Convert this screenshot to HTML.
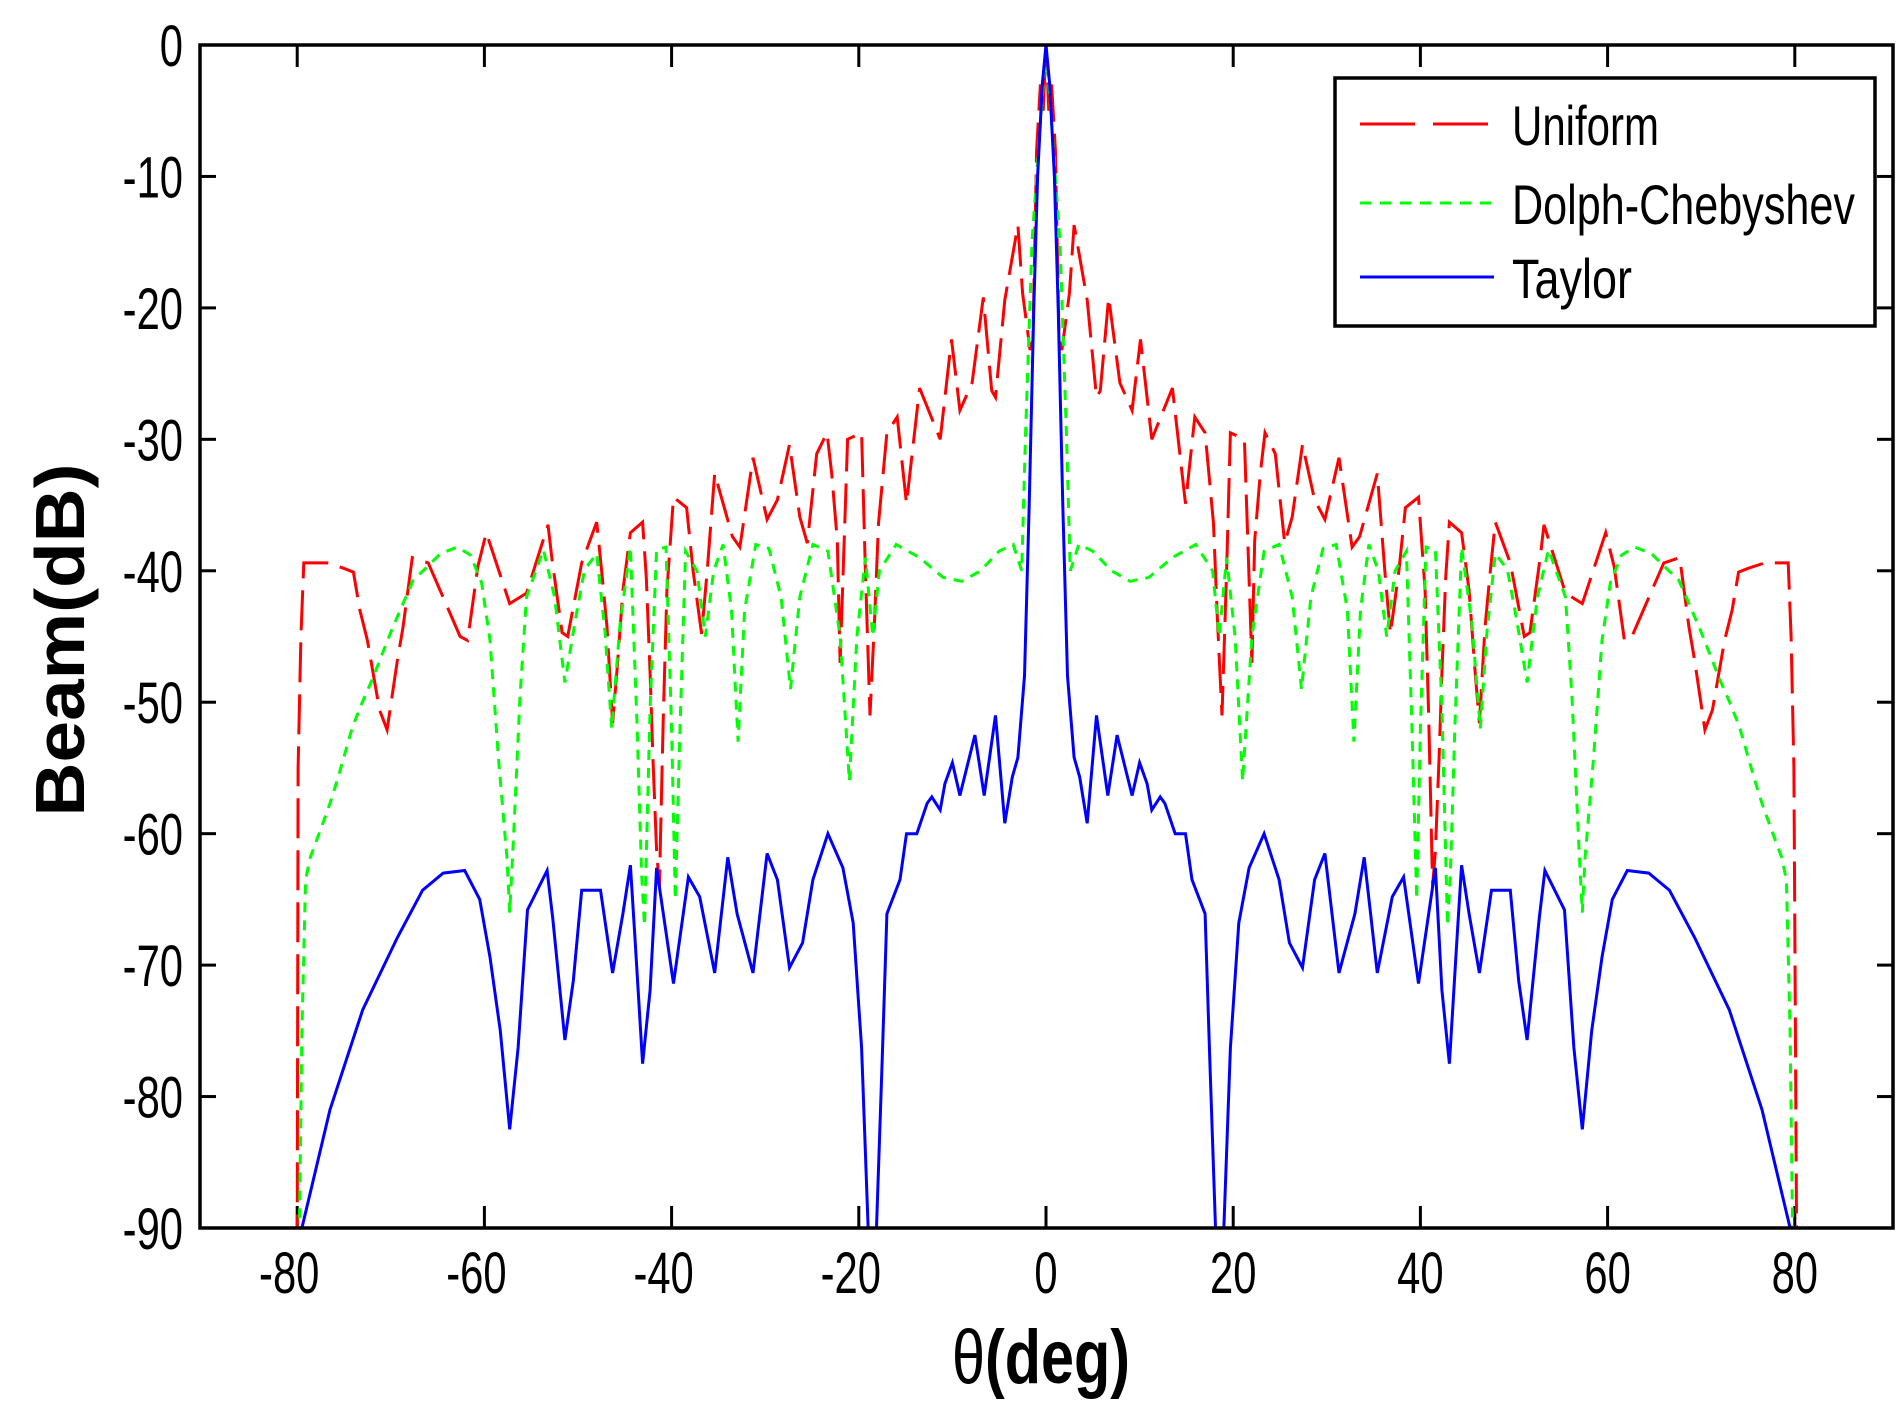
<!DOCTYPE html>
<html><head><meta charset="utf-8"><title>Beam pattern</title>
<style>
html,body{margin:0;padding:0;background:#fff;}
svg{display:block;font-family:"Liberation Sans",sans-serif;}
</style></head>
<body>
<svg id="chart" width="1904" height="1419" viewBox="0 0 1904 1419" xmlns="http://www.w3.org/2000/svg">
<defs><clipPath id="plotclip"><rect x="200" y="45" width="1693" height="1183"/></clipPath></defs>
<rect x="200" y="45" width="1693" height="1183" fill="#fff"/>
<g id="ticks"></g>
<g id="series" clip-path="url(#plotclip)"></g>
<rect x="200" y="45" width="1693" height="1183" fill="none" stroke="#000" stroke-width="3.5"/>
<g id="labels" font-size="58"></g>
<text transform="translate(84,640) rotate(-90)" text-anchor="middle" font-weight="bold" font-size="70" textLength="353" lengthAdjust="spacingAndGlyphs">Beam(dB)</text>
<text x="952" y="1383" font-size="76" textLength="178" lengthAdjust="spacingAndGlyphs"><tspan font-weight="normal">θ</tspan><tspan font-weight="bold">(deg)</tspan></text>
<g>
  <rect x="1335" y="78" width="540" height="248" fill="#fff" stroke="#000" stroke-width="3.5"/>
  <line x1="1360" y1="124" x2="1494" y2="124" stroke="#ff0000" stroke-width="3" stroke-dasharray="55 18"/>
  <text x="1512" y="145" font-size="56" textLength="147" lengthAdjust="spacingAndGlyphs">Uniform</text>
  <line x1="1360" y1="203" x2="1494" y2="203" stroke="#00ff00" stroke-width="3" stroke-dasharray="11 9"/>
  <text x="1512" y="224" font-size="56" textLength="343" lengthAdjust="spacingAndGlyphs">Dolph-Chebyshev</text>
  <line x1="1360" y1="277" x2="1494" y2="277" stroke="#0000ff" stroke-width="3"/>
  <text x="1512" y="298" font-size="56" textLength="120" lengthAdjust="spacingAndGlyphs">Taylor</text>
</g>
</svg>
<script>
// ---- data ----
const xTicks = [-80,-60,-40,-20,0,20,40,60,80];
const yTicks = [0,-10,-20,-30,-40,-50,-60,-70,-80,-90];

const uniformTheta = [-80,-79.9,-79.6,-79.3,-76.8,-75.1,-74,-73.3,-72.5,-71.2,-70.4,-69.3,-68.7,-67.7,-66,-62.6,-61.8,-60.7,-59.8,-57.3,-55.5,-53.2,-52.8,-51.7,-51.1,-49.6,-48,-47.4,-46.9,-46.3,-45.8,-45.2,-44.4,-43.1,-42.7,-42.3,-42,-41.6,-41.3,-40.9,-40.5,-39.8,-38.4,-37.7,-36.8,-36.2,-35.4,-33.5,-32.7,-31.3,-29.8,-28.7,-27.4,-26.3,-25.5,-24.5,-23.4,-22.9,-22.3,-22,-21.2,-19.7,-19.3,-18.8,-18.3,-17.9,-17,-15.9,-14.9,-13.5,-11.3,-10.1,-9.2,-7.9,-6.7,-5.8,-5.4,-4.4,-3,-2.5,-1.7,-1.4,-1,-0.6,-0.3,0,
 0.3,0.6,1,1.4,1.7,2.5,3,4.4,5.4,5.8,6.7,7.9,9.2,10.1,11.3,13.5,14.9,15.9,17,17.9,18.3,18.8,19.3,19.7,21.2,22,22.3,22.9,23.4,24.5,25.5,26.3,27.4,28.7,29.8,31.3,32.7,33.5,35.4,36.2,36.8,37.7,38.4,39.8,40.5,40.9,41.3,41.6,42,42.3,42.7,43.1,44.4,45.2,45.8,46.3,46.9,47.4,48,49.6,51.1,51.7,52.8,53.2,55.5,57.3,59.8,60.7,61.8,62.6,66,67.7,68.7,69.3,70.4,71.2,72.5,73.3,74,75.1,76.8,79.3,79.6,79.9,80.2];
const uniformDb = [-92,-55,-45,-39.4,-39.4,-39.8,-40.1,-43,-45.3,-50.6,-52.1,-46.8,-44.3,-39,-39.4,-45,-45.3,-39.7,-37.1,-42.5,-41.7,-36.5,-39,-44.7,-45,-39.4,-36.3,-40.5,-44.3,-51.6,-47.3,-41.5,-37.1,-36.3,-40.5,-47.8,-54.2,-61.3,-64,-51.4,-41.5,-34.4,-35.2,-40,-44.8,-40,-32.6,-37.4,-38.2,-31.4,-36.1,-34.6,-30.4,-35.9,-37.9,-31.1,-29.5,-32.6,-37.7,-47,-30,-29.5,-40,-51,-43.5,-36.4,-29.5,-28.3,-34.9,-26.1,-30,-22.4,-27.8,-25.7,-19.2,-26.3,-26.8,-19.4,-13.7,-18.9,-23.2,-22.5,-8,-3,-5,0,
 -5,-3,-8,-22.5,-23.2,-18.9,-13.7,-19.4,-26.8,-26.3,-19.2,-25.7,-27.8,-22.4,-30,-26.1,-34.9,-28.3,-29.5,-36.4,-43.5,-51,-40,-29.5,-30,-47,-37.7,-32.6,-29.5,-31.1,-37.9,-35.9,-30.4,-34.6,-36.1,-31.4,-38.2,-37.4,-32.6,-40,-44.8,-40,-35.2,-34.4,-41.5,-51.4,-64,-61.3,-54.2,-47.8,-40.5,-36.3,-37.1,-41.5,-47.3,-51.6,-44.3,-40.5,-36.3,-39.4,-45,-44.7,-39,-36.5,-41.7,-42.5,-37.1,-39.7,-45.3,-45,-39.4,-39,-44.3,-46.8,-52.1,-50.6,-45.3,-43,-40.1,-39.8,-39.4,-39.4,-45,-55,-92];

const dolphTheta = [-79.8,-79.5,-79.1,-78.6,-77.4,-76.5,-75.7,-74.9,-74.1,-73.1,-72,-70.9,-69.9,-68.7,-67.6,-66.1,-64.7,-62.9,-61.5,-60.3,-59.4,-58.5,-57.6,-57.3,-56.9,-56.2,-55.5,-53.7,-52.5,-51.4,-50.3,-49.3,-48,-47.1,-46.4,-45.5,-44.4,-43.7,-43.2,-42.9,-42.3,-41.6,-40.6,-40,-39.6,-39.1,-38.5,-37.3,-36.4,-35.5,-34.5,-33.6,-32.9,-32.2,-31,-29.6,-28.3,-27.3,-26.3,-24.9,-23.3,-22,-21,-20.2,-19.3,-18.5,-17.8,-16,-13.5,-11,-9,-7,-5,-3.5,-2.6,-2.2,-1.5,-0.8,0,
 0.8,1.5,2.2,2.6,3.5,5,7,9,11,13.5,16,17.8,18.5,19.3,20.2,21,22,23.3,24.9,26.3,27.3,28.3,29.6,31,32.2,32.9,33.6,34.5,35.5,36.4,37.3,38.5,39.1,39.6,40,40.6,41.6,42.3,42.9,43.2,43.7,44.4,45.5,46.4,47.1,48,49.3,50.3,51.4,52.5,53.7,55.5,56.2,56.9,57.3,57.6,58.5,59.4,60.3,61.5,62.9,64.7,66.1,67.6,68.7,69.9,70.9,72,73.1,74.1,74.9,75.7,76.5,77.4,78.6,79.1,79.5,79.8];
const dolphDb = [-92,-75,-63.5,-61.8,-59.5,-57.7,-55.9,-53.9,-51.9,-50.1,-48.3,-46.3,-44.5,-42.5,-40.7,-39.7,-38.7,-38.2,-38.8,-40.9,-45.3,-54.2,-61.8,-66,-60.5,-49.6,-42,-38.4,-42,-48.5,-43.8,-39.9,-38.7,-44.7,-52,-44,-38.2,-51.6,-63,-67,-50.4,-38.4,-38.2,-52,-65,-52,-38.5,-40,-45,-40,-38,-43,-53,-43,-38,-38.3,-42,-49,-42,-38,-38.5,-45,-56,-45,-39,-45,-40,-38,-39,-40.5,-40.8,-40,-38.5,-38,-40,-30,-15,-8,0,
 -8,-15,-30,-40,-38,-38.5,-40,-40.8,-40.5,-39,-38,-40,-45,-39,-45,-56,-45,-38.5,-38,-42,-49,-42,-38.3,-38,-43,-53,-43,-38,-40,-45,-40,-38.5,-52,-65,-52,-38.2,-38.4,-50.4,-67,-63,-51.6,-38.2,-44,-52,-44.7,-38.7,-39.9,-43.8,-48.5,-42,-38.4,-42,-49.6,-60.5,-66,-61.8,-54.2,-45.3,-40.9,-38.8,-38.2,-38.7,-39.7,-40.7,-42.5,-44.5,-46.3,-48.3,-50.1,-51.9,-53.9,-55.9,-57.7,-59.5,-61.8,-63.5,-75,-92];

const taylorTheta = [-79.5,-76.5,-73,-69.3,-66.6,-64.4,-62.1,-60.5,-59.4,-58.3,-57.3,-56.4,-55.4,-53.3,-52.7,-51.4,-50.5,-49.6,-47.6,-46.3,-45.2,-44.4,-43.9,-43.1,-42.3,-41.6,-39.8,-38.2,-37,-35.4,-34,-33,-31.3,-29.8,-28.7,-27.4,-26,-24.9,-23.3,-21.7,-20.6,-19.7,-18.9,-18.2,-17.5,-17,-15.6,-14.9,-13.8,-12.7,-12.2,-11.3,-10.8,-10,-9.2,-7.6,-6.6,-5.4,-4.4,-3.6,-3,-2.3,-1.8,-1.3,-0.9,-0.4,0,
 0.4,0.9,1.3,1.8,2.3,3,3.6,4.4,5.4,6.6,7.6,9.2,10,10.8,11.3,12.2,12.7,13.8,14.9,15.6,17,17.5,18.2,18.9,19.7,20.6,21.7,23.3,24.9,26,27.4,28.7,29.8,31.3,33,34,35.4,37,38.2,39.8,41.6,42.3,43.1,43.9,44.4,45.2,46.3,47.6,49.6,50.5,51.4,52.7,53.3,55.4,56.4,57.3,58.3,59.4,60.5,62.1,64.4,66.6,69.3,73,76.5,79.5];
const taylorDb = [-90,-81,-73.4,-67.9,-64.3,-63,-62.8,-65,-69.4,-75,-82.5,-76.3,-65.8,-62.8,-66.4,-75.7,-71.2,-64.3,-64.3,-70.6,-66.1,-62.4,-68.1,-77.5,-71.9,-62.6,-71.4,-63.3,-64.8,-70.6,-61.8,-66.1,-70.6,-61.5,-63.5,-70.2,-68.3,-63.5,-60,-62.6,-66.8,-76.3,-92,-92,-77.2,-66.1,-63.5,-60,-60,-57.7,-57.2,-58.2,-56.2,-54.6,-57.1,-52.5,-57.1,-51,-59.2,-55.7,-54.2,-48,-35,-20,-10,-3,0,
 -3,-10,-20,-35,-48,-54.2,-55.7,-59.2,-51,-57.1,-52.5,-57.1,-54.6,-56.2,-58.2,-57.2,-57.7,-60,-60,-63.5,-66.1,-77.2,-92,-92,-76.3,-66.8,-62.6,-60,-63.5,-68.3,-70.2,-63.5,-61.5,-70.6,-66.1,-61.8,-70.6,-64.8,-63.3,-71.4,-62.6,-71.9,-77.5,-68.1,-62.4,-66.1,-70.6,-64.3,-64.3,-71.2,-75.7,-66.4,-62.8,-65.8,-76.3,-82.5,-75,-69.4,-65,-62.8,-63,-64.3,-67.9,-73.4,-81,-90];

// ---- axes ----
const X0 = 200, X1 = 1893, Y0 = 45, Y1 = 1228;
function xs(t){ return 1046 + t * 9.36; }
function ys(d){ return Y0 + (0 - d) / 90 * (Y1 - Y0); }

const NS = "http://www.w3.org/2000/svg";
const tickG = document.getElementById('ticks');
const labG = document.getElementById('labels');
const serG = document.getElementById('series');

function mk(tag, attrs, parent){
  const e = document.createElementNS(NS, tag);
  for (const k in attrs) e.setAttribute(k, attrs[k]);
  parent.appendChild(e);
  return e;
}

xTicks.forEach(function(t){
  const x = xs(t);
  const a = mk('line', {x1:x, y1:Y1, x2:x, y2:Y1-22, stroke:'#000','stroke-width':3}, tickG);
  
  
  const b = mk('line', {x1:x, y1:Y0, x2:x, y2:Y0+22, stroke:'#000','stroke-width':3}, tickG);
  
  
  const lx = t < 0 ? x - 8 : x;
  const tx = mk('text', {transform:'translate('+lx+',1293) scale(0.72,1)', 'text-anchor':'middle'}, labG);
  tx.textContent = String(t);
  
  
});
yTicks.forEach(function(d){
  const y = ys(d);
  const a = mk('line', {x1:X0, y1:y, x2:X0+16, y2:y, stroke:'#000','stroke-width':3}, tickG);
  
  
  const b = mk('line', {x1:X1, y1:y, x2:X1-16, y2:y, stroke:'#000','stroke-width':3}, tickG);
  
  
  const tx = mk('text', {transform:'translate(183,'+(y+21)+') scale(0.72,1)', 'text-anchor':'end'}, labG);
  tx.textContent = String(d);
  
  
});

function drawSeries(th, db, color, dash, name){
  let p = '';
  for (let i = 0; i < th.length; i++){
    p += (i ? 'L' : 'M') + xs(th[i]).toFixed(1) + ',' + ys(db[i]).toFixed(1);
  }
  const el = mk('path', {d:p, fill:'none', stroke:color, 'stroke-width':3, 'stroke-linejoin':'miter'}, serG);
  if (dash) el.setAttribute('stroke-dasharray', dash);
  
  
}
drawSeries(uniformTheta, uniformDb, '#ff0000', '40 12', 'uniform-series');
drawSeries(dolphTheta, dolphDb, '#00ff00', '10 8', 'dolph-chebyshev-series');
drawSeries(taylorTheta, taylorDb, '#0000ff', null, 'taylor-series');
</script>
</body></html>
